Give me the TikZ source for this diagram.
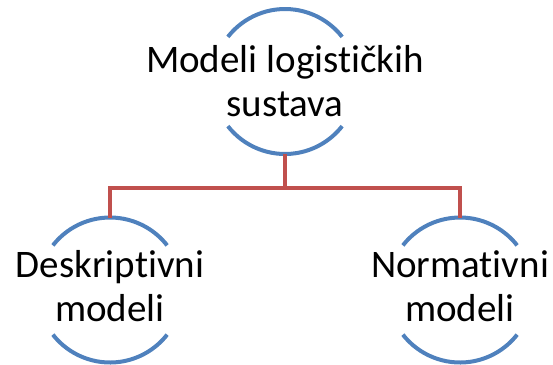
\documentclass[tikz,border=0pt]{standalone}
\usepackage{fontspec}
\setmainfont{Carlito}[RawFeature={-liga;-clig;-dlig;-calt;-rlig}]
\definecolor{arcblue}{RGB}{79,129,189}
\definecolor{linered}{RGB}{192,80,77}
\tikzset{
  ring/.style={circle, minimum size=145bp, inner sep=0pt, outer sep=0pt, draw=none},
  lbl/.style={align=center, inner sep=0pt, font=\fontsize{39bp}{44bp}\selectfont},
  arcst/.style={draw=arcblue, line width=4bp},
  conn/.style={draw=linered, line width=4bp}
}
\begin{document}
\begin{tikzpicture}[x=1bp,y=1bp]
\useasboundingbox (0,0) rectangle (553,-364);
\node[ring] (top) at (285,-81.5) {};
\node[ring] (left) at (110,-290) {};
\node[ring] (right) at (460,-290) {};
\node[lbl] (ttop) at (top.center) {Modeli logističkih\\sustava};
\node[lbl, yshift=3.5bp] (tleft) at (left.center) {Deskriptivni\\modeli};
\node[lbl, yshift=3.5bp] (tright) at (right.center) {Normativni\\modeli};
\foreach \n in {top,left,right}{
  \draw[arcst] (\n.142) arc[start angle=142, end angle=38, radius=72.5bp];
  \draw[arcst] (\n.218) arc[start angle=218, end angle=322, radius=72.5bp];
}
\coordinate (j) at (285,-188);
\draw[conn] (top.south) -- (j) -| (left.north);
\draw[conn] (j) -| (right.north);
\end{tikzpicture}
\end{document}
